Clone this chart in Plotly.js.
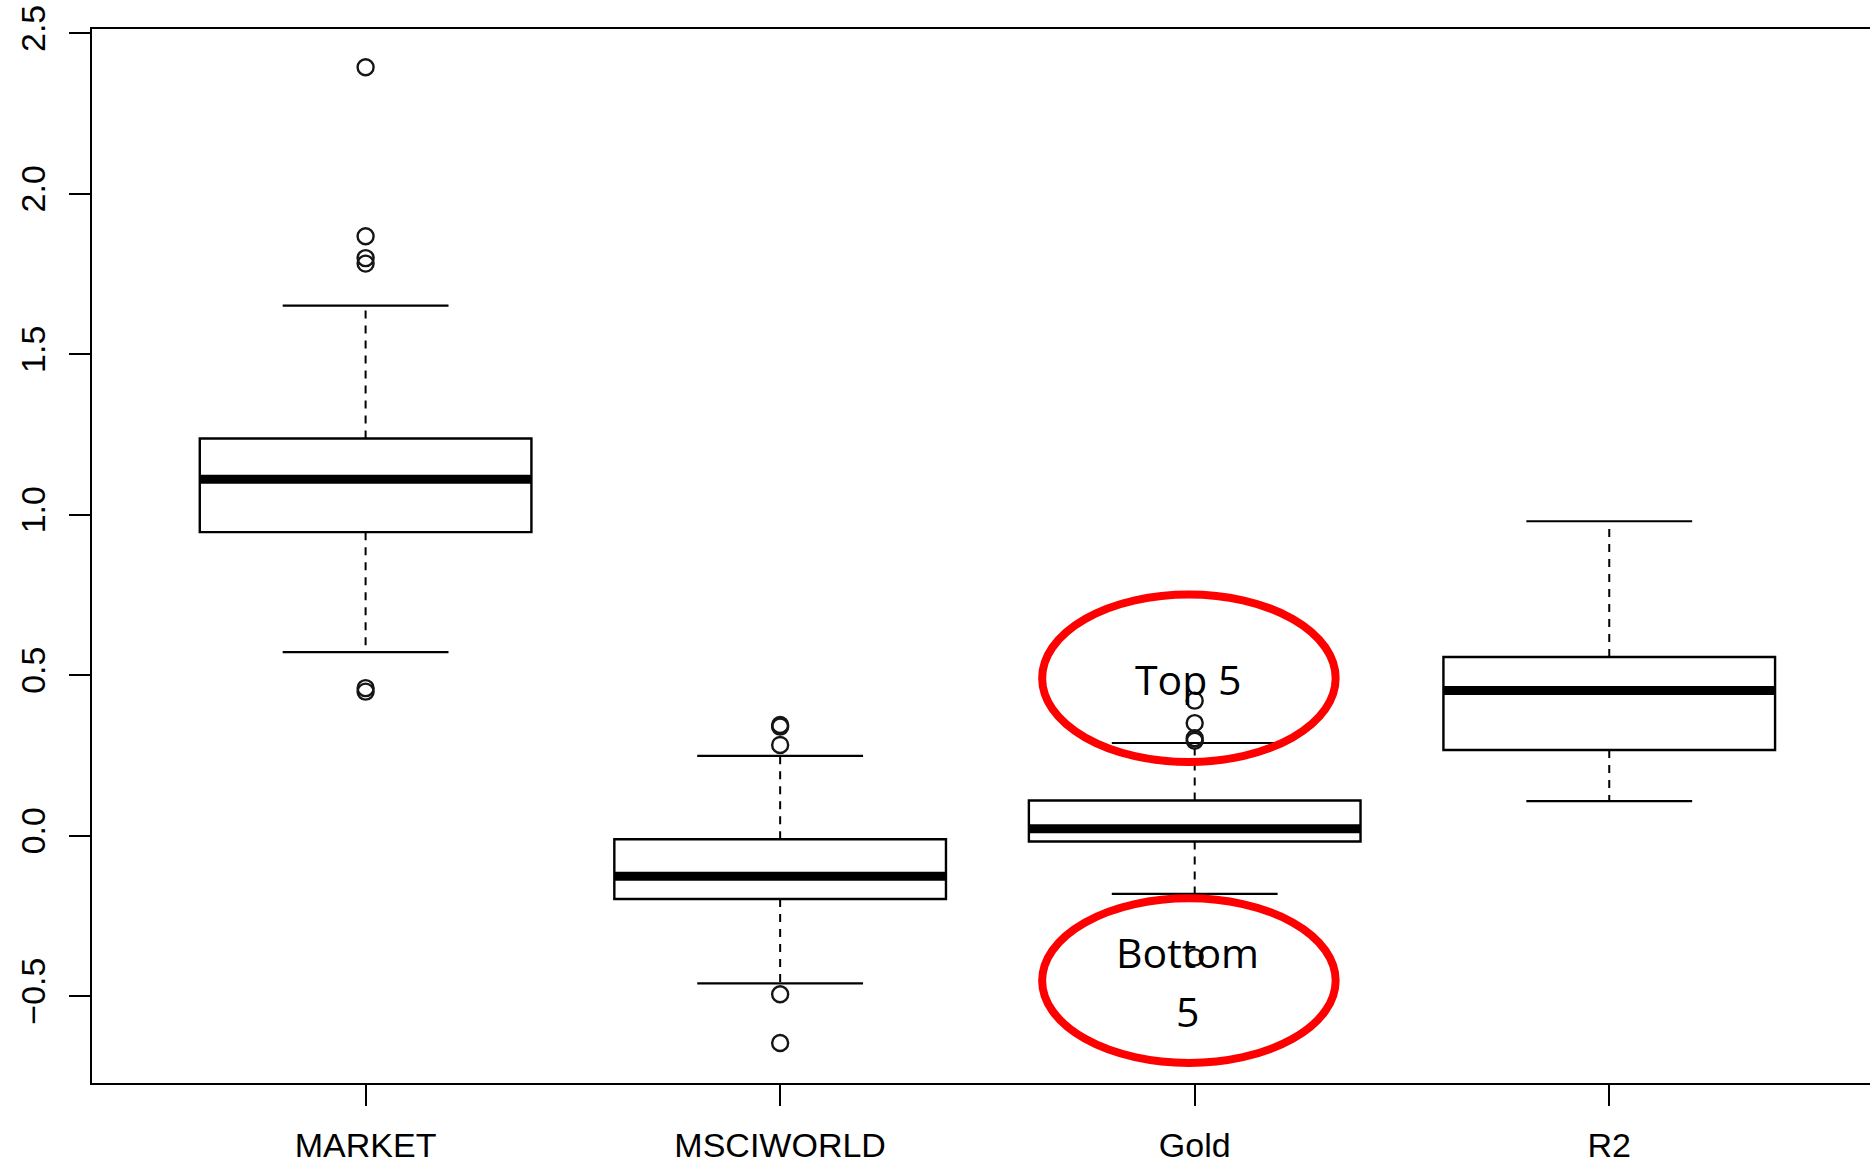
<!DOCTYPE html>
<html>
<head>
<meta charset="utf-8">
<script src="https://cdn.plot.ly/plotly-3.0.1.min.js"></script>
<style>
  html, body { margin: 0; padding: 0; background: #ffffff; }
  #chart { width: 1870px; height: 1166px; }
</style>
</head>
<body>
<div id="chart"></div>
<script>
// ---- data ----
const categories = ["MARKET", "MSCIWORLD", "Gold", "R2"];
const lowerWhisker = [0.572, -0.460, -0.181, 0.108];
const q1Values     = [0.946, -0.197, -0.018, 0.267];
const medianValues = [1.111, -0.126, 0.022, 0.453];
const q3Values     = [1.238, -0.011, 0.110, 0.557];
const upperWhisker = [1.652, 0.249, 0.289, 0.980];
const outliersMarket    = [2.395, 1.868, 1.800, 1.783, 0.460, 0.449];
const outliersMsciworld = [0.345, 0.340, 0.283, -0.494, -0.646];
const outliersGold      = [0.421, 0.351, 0.304, 0.296, -0.379];
const outliersR2        = [];
const yTickValues = [-0.5, 0.0, 0.5, 1.0, 1.5, 2.0, 2.5];
const yTickLabels = ["\u22120.5", "0.0", "0.5", "1.0", "1.5", "2.0", "2.5"];
const calloutTop = "Top 5";
const calloutBottom = ["Bottom", "5"];

// ---- styling constants ----
const BOX_HALF = 0.4, CAP_HALF = 0.2;
const positions = categories.map((c, i) => i + 1);
const outlierSets = [outliersMarket, outliersMsciworld, outliersGold, outliersR2];

const traces = [];

// boxes (outline only; whiskers drawn separately, dashed)
categories.forEach((c, i) => {
  traces.push({
    type: "box",
    x: [positions[i]],
    q1: [q1Values[i]],
    median: [medianValues[i]],
    q3: [q3Values[i]],
    lowerfence: [q1Values[i]],
    upperfence: [q3Values[i]],
    width: BOX_HALF * 2,
    whiskerwidth: 0,
    boxpoints: false,
    fillcolor: "rgba(255,255,255,0)",
    line: { color: "#000000", width: 2.4 },
    hoverinfo: "skip",
    showlegend: false
  });
});

// dashed whiskers
const wx = [], wy = [];
positions.forEach((p, i) => {
  wx.push(p, p, null, p, p, null);
  wy.push(q3Values[i], upperWhisker[i], null, q1Values[i], lowerWhisker[i], null);
});
traces.push({ type: "scatter", mode: "lines", x: wx, y: wy,
  line: { color: "#000000", width: 2, dash: "8px,7px" }, hoverinfo: "skip", showlegend: false });

// whisker caps
const cx = [], cy = [];
positions.forEach((p, i) => {
  cx.push(p - CAP_HALF, p + CAP_HALF, null, p - CAP_HALF, p + CAP_HALF, null);
  cy.push(upperWhisker[i], upperWhisker[i], null, lowerWhisker[i], lowerWhisker[i], null);
});
traces.push({ type: "scatter", mode: "lines", x: cx, y: cy,
  line: { color: "#000000", width: 2.2 }, hoverinfo: "skip", showlegend: false });

// thick medians
const mx = [], my = [];
positions.forEach((p, i) => {
  mx.push(p - BOX_HALF, p + BOX_HALF, null);
  my.push(medianValues[i], medianValues[i], null);
});
traces.push({ type: "scatter", mode: "lines", x: mx, y: my,
  line: { color: "#000000", width: 9 }, hoverinfo: "skip", showlegend: false });

// outliers
const ox = [], oy = [];
outlierSets.forEach((set, i) => set.forEach(v => { ox.push(positions[i]); oy.push(v); }));
traces.push({ type: "scatter", mode: "markers", x: ox, y: oy,
  marker: { symbol: "circle-open", size: 16, color: "#151515", line: { width: 2.4, color: "#151515" } },
  hoverinfo: "skip", showlegend: false });

const axisFont = { family: "Liberation Sans, Arial, sans-serif", size: 34, color: "#000000" };
const noteFont = { family: "Open Sans, Noto Sans, sans-serif", size: 41, color: "#000000" };

const layout = {
  width: 1870, height: 1166,
  paper_bgcolor: "#ffffff", plot_bgcolor: "#ffffff",
  margin: { l: 92, r: 0, t: 29, b: 83, pad: 0 },
  showlegend: false,
  xaxis: {
    range: [0.34, 4.629],
    tickvals: positions, ticktext: categories,
    showgrid: false, zeroline: false,
    showline: true, linecolor: "#000000", linewidth: 2, mirror: true,
    ticks: "outside", ticklen: 21, tickwidth: 2, tickcolor: "#000000",
    tickfont: axisFont, ticklabelstandoff: 10
  },
  yaxis: {
    range: [-0.7705, 2.514],
    tickvals: yTickValues, ticktext: yTickLabels,
    tickangle: -90,
    showgrid: false, zeroline: false,
    showline: true, linecolor: "#000000", linewidth: 2, mirror: false,
    ticks: "outside", ticklen: 21, tickwidth: 2, tickcolor: "#000000",
    tickfont: axisFont, ticklabelstandoff: 10
  },
  shapes: [
    { type: "circle", xref: "x", yref: "y", x0: 2.632, x1: 3.340, y0: 0.230, y1: 0.752,
      line: { color: "#ff0000", width: 8 }, fillcolor: "rgba(0,0,0,0)", layer: "above" },
    { type: "circle", xref: "x", yref: "y", x0: 2.632, x1: 3.340, y0: -0.708, y1: -0.195,
      line: { color: "#ff0000", width: 8 }, fillcolor: "rgba(0,0,0,0)", layer: "above" }
  ],
  annotations: [
    { xref: "x", yref: "y", x: 2.983, y: 0.490, text: calloutTop, showarrow: false,
      font: noteFont, xanchor: "center", yanchor: "middle" },
    { xref: "x", yref: "y", x: 2.983, y: -0.361, text: calloutBottom[0], showarrow: false,
      font: noteFont, xanchor: "center", yanchor: "middle" },
    { xref: "x", yref: "y", x: 2.983, y: -0.545, text: calloutBottom[1], showarrow: false,
      font: noteFont, xanchor: "center", yanchor: "middle" }
  ]
};

Plotly.newPlot("chart", traces, layout, { staticPlot: true, displayModeBar: false });
</script>
</body>
</html>
